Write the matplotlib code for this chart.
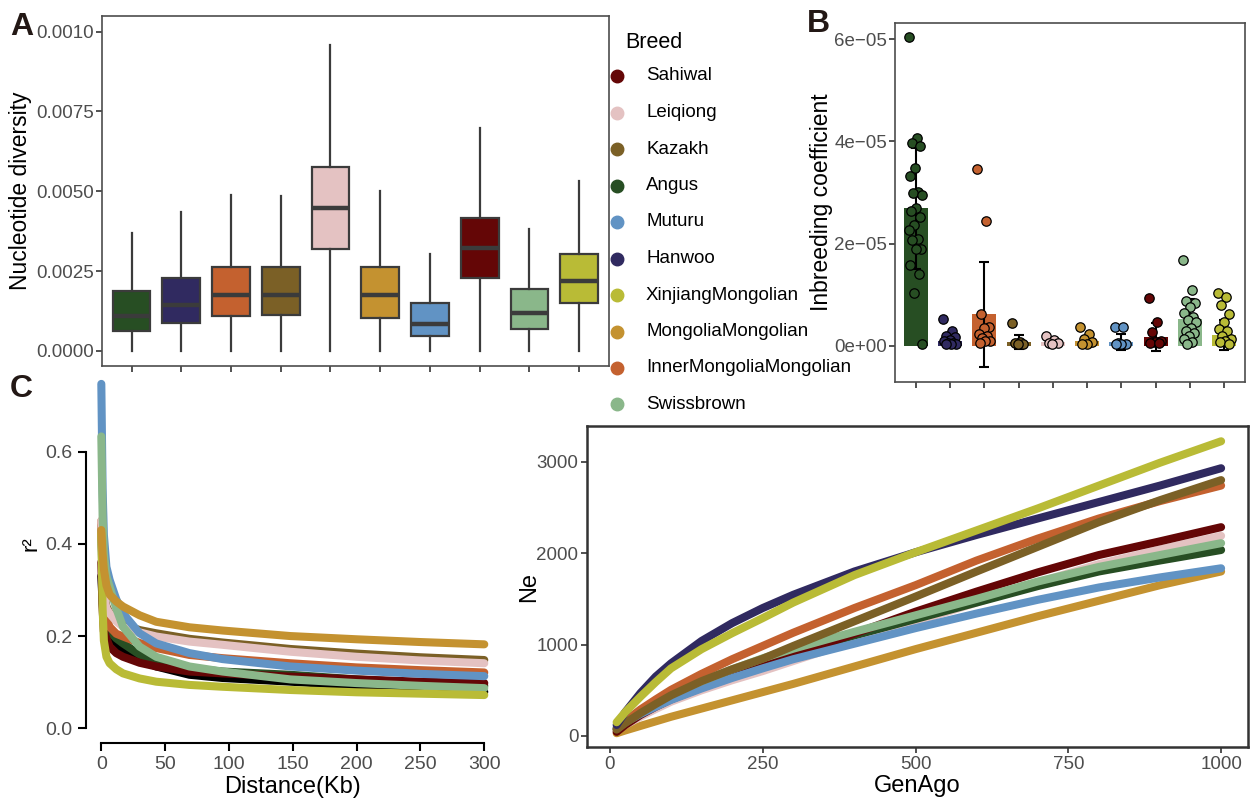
import numpy as np
import matplotlib
matplotlib.use("Agg")
import matplotlib.pyplot as plt
from matplotlib.lines import Line2D

plt.rcParams["font.family"] = ["Liberation Sans", "DejaVu Sans"]

# ---- data ----
breeds = ["Angus", "Hanwoo", "InnerMongoliaMongolian", "Kazakh", "Leiqiong",
          "MongoliaMongolian", "Muturu", "Sahiwal", "Swissbrown", "XinjiangMongolian"]
colors = ["#274e23", "#302a60", "#c4612f", "#7b6026", "#e4c2c2",
          "#c49230", "#6193c4", "#640606", "#8ab78a", "#b9bb36"]
legend_order = ["Sahiwal", "Leiqiong", "Kazakh", "Angus", "Muturu", "Hanwoo",
                "XinjiangMongolian", "MongoliaMongolian", "InnerMongoliaMongolian", "Swissbrown"]

# panel A: nucleotide diversity boxes
pi_low = [0, 0, 0, 0, 0, 0, 0, 0, 0, 0]
pi_q1 = [0.00064, 0.00088, 0.00111, 0.00113, 0.00319, 0.00104, 0.00048, 0.00228, 0.00069, 0.00151]
pi_med = [0.00111, 0.00145, 0.00174, 0.00176, 0.00449, 0.00174, 0.00086, 0.00322, 0.00118, 0.00220]
pi_q3 = [0.00188, 0.00230, 0.00262, 0.00262, 0.00576, 0.00263, 0.00150, 0.00418, 0.00195, 0.00305]
pi_high = [0.00368, 0.00435, 0.00489, 0.00484, 0.00958, 0.00500, 0.00303, 0.00699, 0.00383, 0.00533]

# panel B: inbreeding coefficient (units 1e-6)
f_mean = [26.9, 1.0, 6.2, 0.8, 0.8, 0.9, 0.8, 1.76, 5.2, 2.1]
f_sd = [11.8, 1.4, 10.3, 1.4, 0.8, 1.1, 1.5, 2.8, 3.9, 2.9]
f_angus = [60.4, 40.7, 39.7, 39.0, 34.7, 33.2, 30.2, 29.9, 29.6, 26.9, 26.4, 25.3,
           23.7, 22.7, 21.0, 20.7, 19.0, 18.9, 15.9, 14.0, 10.3, 0.3]
f_hanwoo = [5.2, 2.9, 1.9, 1.8, 1.2, 1.0, 0.6, 0.6, 0.4, 0.4, 0.3]
f_inner = [34.6, 24.5, 6.2, 3.8, 3.5, 2.4, 2.0, 1.5, 1.0, 1.0, 0.5]
f_kazakh = [4.4, 0.7, 0.5, 0.4, 0.3]
f_leiqiong = [2.0, 1.2, 0.5, 0.5, 0.3]
f_mongolia = [3.7, 2.3, 1.3, 0.8, 0.4, 0.3]
f_muturu = [3.8, 3.8, 0.5, 0.4, 0.4, 0.3]
f_sahiwal = [9.3, 4.7, 2.8, 1.0, 0.8, 0.6, 0.5]
f_swiss = [16.8, 10.9, 8.8, 8.5, 7.7, 6.5, 5.6, 5.0, 4.6, 3.6, 3.0, 2.6, 2.0, 1.3, 0.7, 0.4]
f_xinjiang = [10.4, 9.6, 8.0, 6.2, 4.6, 3.3, 3.0, 2.0, 1.3, 1.0, 0.7, 0.4]
f_points = [f_angus, f_hanwoo, f_inner, f_kazakh, f_leiqiong,
            f_mongolia, f_muturu, f_sahiwal, f_swiss, f_xinjiang]

# panel C left: LD decay
ld_dist = [0, 1, 2, 4, 6.5, 11.7, 17, 30, 43, 69, 95, 148, 200, 250, 300]
ld_angus = [0.43, 0.31, 0.25, 0.22, 0.21, 0.195, 0.184, 0.160, 0.144, 0.130, 0.123, 0.116, 0.106, 0.098, 0.092]
ld_hanwoo = [0.33, 0.27, 0.24, 0.22, 0.21, 0.185, 0.170, 0.150, 0.134, 0.116, 0.109, 0.101, 0.092, 0.085, 0.079]
ld_inner = [0.45, 0.33, 0.28, 0.24, 0.22, 0.205, 0.199, 0.185, 0.174, 0.159, 0.152, 0.141, 0.132, 0.126, 0.121]
ld_kazakh = [0.44, 0.34, 0.29, 0.265, 0.25, 0.235, 0.225, 0.213, 0.206, 0.194, 0.186, 0.172, 0.162, 0.154, 0.148]
ld_leiqiong = [0.45, 0.34, 0.29, 0.26, 0.249, 0.232, 0.220, 0.208, 0.199, 0.188, 0.181, 0.166, 0.155, 0.147, 0.141]
ld_mongolia = [0.43, 0.38, 0.345, 0.31, 0.29, 0.275, 0.264, 0.245, 0.231, 0.219, 0.212, 0.200, 0.193, 0.187, 0.182]
ld_muturu = [0.747, 0.52, 0.42, 0.35, 0.322, 0.28, 0.249, 0.206, 0.184, 0.163, 0.150, 0.134, 0.125, 0.118, 0.113]
ld_sahiwal = [0.36, 0.26, 0.21, 0.195, 0.177, 0.163, 0.155, 0.142, 0.134, 0.123, 0.119, 0.112, 0.106, 0.101, 0.098]
ld_swiss = [0.633, 0.46, 0.38, 0.33, 0.307, 0.26, 0.220, 0.177, 0.155, 0.134, 0.123, 0.106, 0.098, 0.092, 0.087]
ld_xinjiang = [0.423, 0.26, 0.19, 0.155, 0.141, 0.128, 0.119, 0.108, 0.101, 0.094, 0.090, 0.083, 0.078, 0.075, 0.072]

# panel C right: Ne over generations
ne_gen = [11, 25, 50, 75, 100, 150, 200, 250, 300, 400, 500, 600, 700, 800, 900, 1000]
ne_angus = [80, 160, 260, 350, 430, 570, 695, 800, 910, 1100, 1280, 1460, 1640, 1800, 1920, 2035]
ne_hanwoo = [120, 260, 470, 650, 795, 1040, 1235, 1400, 1545, 1800, 2010, 2200, 2380, 2560, 2740, 2930]
ne_inner = [75, 160, 290, 400, 505, 680, 840, 985, 1130, 1400, 1650, 1920, 2160, 2380, 2570, 2740]
ne_kazakh = [70, 140, 250, 350, 445, 600, 730, 845, 985, 1255, 1525, 1800, 2070, 2340, 2580, 2800]
ne_leiqiong = [60, 120, 210, 295, 375, 500, 610, 710, 820, 1040, 1250, 1460, 1680, 1880, 2040, 2190]
ne_mongolia = [30, 60, 110, 160, 210, 300, 390, 480, 570, 760, 950, 1130, 1310, 1480, 1650, 1800]
ne_muturu = [80, 150, 240, 320, 395, 520, 635, 740, 840, 1010, 1180, 1340, 1490, 1625, 1735, 1835]
ne_sahiwal = [45, 120, 230, 320, 400, 530, 650, 760, 880, 1120, 1360, 1580, 1790, 1980, 2130, 2285]
ne_swiss = [90, 170, 280, 375, 460, 600, 730, 850, 955, 1140, 1320, 1500, 1690, 1850, 1980, 2110]
ne_xinjiang = [150, 260, 430, 590, 740, 950, 1125, 1290, 1460, 1760, 2010, 2250, 2490, 2740, 2990, 3225]

W, H = 1250, 798


def px_box(l, t, r, b):
    return [l / W, 1 - b / H, (r - l) / W, (b - t) / H]


fig = plt.figure(figsize=(W / 100, H / 100), dpi=100)
grey = "#4d4d4d"

# ---------------- C left (first, so panel A draws over it) ----------------
ax = fig.add_axes(px_box(86, 344.7, 499.6, 743))
ax.patch.set_alpha(0)
ld_series = [ld_hanwoo, ld_angus, ld_kazakh, ld_sahiwal, ld_inner, ld_leiqiong,
             ld_muturu, ld_swiss, ld_xinjiang, ld_mongolia]
ld_names = ["Hanwoo", "Angus", "Kazakh", "Sahiwal", "InnerMongoliaMongolian", "Leiqiong",
            "Muturu", "Swissbrown", "XinjiangMongolian", "MongoliaMongolian"]
for name, vals in zip(ld_names, ld_series):
    c = "black" if name == "Hanwoo" else colors[breeds.index(name)]
    ax.plot(ld_dist, vals, color=c, linewidth=5.8, solid_capstyle="round",
            solid_joinstyle="round")
ax.set_xlim(-12, 312)
ax.set_ylim(-0.032, 0.832)
ax.spines["top"].set_visible(False)
ax.spines["right"].set_visible(False)
ax.spines["left"].set_bounds(0, 0.6)
ax.spines["bottom"].set_bounds(0, 300)
ax.spines["left"].set_linewidth(1.5)
ax.spines["bottom"].set_linewidth(1.5)
ax.set_yticks([0, 0.2, 0.4, 0.6])
ax.set_xticks([0, 50, 100, 150, 200, 250, 300])
ax.tick_params(axis="both", labelcolor=grey, labelsize=14, length=6, width=1.5)
ax.set_ylabel("r\u00b2", fontsize=16, labelpad=3)
ax.set_xlabel("Distance(Kb)", fontsize=17, labelpad=2)

# ---------------- A ----------------
ax = fig.add_axes(px_box(101.7, 16, 609, 366))
stats = []
for i in range(len(breeds)):
    stats.append({"whislo": pi_low[i], "q1": pi_q1[i], "med": pi_med[i],
                  "q3": pi_q3[i], "whishi": pi_high[i], "fliers": []})
bp = ax.bxp(stats, positions=range(1, 11), widths=0.76, patch_artist=True, showcaps=False,
            boxprops=dict(edgecolor="#3b3b3b", linewidth=1.6),
            whiskerprops=dict(color="#3b3b3b", linewidth=1.6),
            medianprops=dict(color="#3b3b3b", linewidth=3.2))
for patch, c in zip(bp["boxes"], colors):
    patch.set_facecolor(c)
ax.set_xlim(0.4, 10.6)
ax.set_ylim(-0.00047, 0.01049)
ax.set_yticks([0, 0.0025, 0.005, 0.0075, 0.01])
ax.set_yticklabels(["0.0000", "0.0025", "0.0050", "0.0075", "0.0010"])
ax.set_xticks(range(1, 11))
ax.set_xticklabels([])
ax.tick_params(axis="both", colors="#333333", labelcolor=grey, labelsize=13.5,
               length=4, width=1.2, pad=1.5)
ax.set_ylabel("Nucleotide diversity", fontsize=16.5, labelpad=3)
for s in ax.spines.values():
    s.set_color(grey)
    s.set_linewidth(1.2)

# legend (shared)
fig.text(625 / W, 1 - 42 / H, "Breed", fontsize=15.5, va="center", ha="left")
for k, name in enumerate(legend_order):
    y = 1 - (76 + k * 36.5) / H
    fig.add_artist(Line2D([617 / W], [y], marker="o", markersize=9, linestyle="none",
                          color=colors[breeds.index(name)], transform=fig.transFigure))
    fig.text(646 / W, y, name, fontsize=13.5, va="center", ha="left")

# ---------------- B ----------------
ax = fig.add_axes(px_box(895, 22.7, 1245, 381.7))
xpos = np.arange(1, 11)
ax.bar(xpos, np.array(f_mean) * 1e-6, width=0.7, color=colors, zorder=1)
ax.errorbar(xpos, np.array(f_mean) * 1e-6, yerr=np.array(f_sd) * 1e-6, fmt="none",
            ecolor="black", elinewidth=1.5, capsize=3.5, capthick=1.5, zorder=2)
for i, pts in enumerate(f_points):
    n = len(pts)
    jit = ((np.arange(n) * 0.618) % 1 - 0.5) * 0.4
    ax.scatter(xpos[i] + jit, np.array(pts) * 1e-6, s=46, color=colors[i],
               edgecolor="black", linewidth=0.9, zorder=3)
ax.set_xlim(0.4, 10.6)
ax.set_ylim(-6.98e-06, 6.32e-05)
ax.set_yticks([0, 2e-05, 4e-05, 6e-05])
ax.set_yticklabels(["0e+00", "2e\u221205", "4e\u221205", "6e\u221205"])
ax.set_xticks(xpos)
ax.set_xticklabels([])
ax.tick_params(axis="both", colors="#333333", labelcolor=grey, labelsize=13.5,
               length=4, width=1.2, pad=1.5)
ax.set_ylabel("Inbreeding coefficient", fontsize=16.5, labelpad=1)
for s in ax.spines.values():
    s.set_color(grey)
    s.set_linewidth(1.2)

# ---------------- C right ----------------
ax = fig.add_axes(px_box(586.7, 426, 1248, 747.3))
ne_series = [ne_mongolia, ne_leiqiong, ne_angus, ne_sahiwal, ne_muturu, ne_swiss,
             ne_inner, ne_kazakh, ne_hanwoo, ne_xinjiang]
ne_names = ["MongoliaMongolian", "Leiqiong", "Angus", "Sahiwal", "Muturu", "Swissbrown",
            "InnerMongoliaMongolian", "Kazakh", "Hanwoo", "XinjiangMongolian"]
for name, vals in zip(ne_names, ne_series):
    ax.plot(ne_gen, vals, color=colors[breeds.index(name)], linewidth=5.8,
            solid_capstyle="round", solid_joinstyle="round")
ax.set_xlim(-38, 1044)
ax.set_ylim(-124, 3392)
ax.set_xticks([0, 250, 500, 750, 1000])
ax.set_yticks([0, 1000, 2000, 3000])
ax.tick_params(axis="both", colors="#333333", labelcolor=grey, labelsize=13.5,
               length=4, width=1.2, pad=2)
ax.set_ylabel("Ne", fontsize=17, labelpad=-3)
ax.set_xlabel("GenAgo", fontsize=17, labelpad=2)
for s in ax.spines.values():
    s.set_color("#333333")
    s.set_linewidth(1.8)

# panel letters
for letter, x, y in [("A", 10, 12), ("B", 807, 9), ("C", 10, 374)]:
    fig.text(x / W, 1 - y / H, letter, fontsize=23, fontweight="bold",
             color="#231815", va="top", ha="left")

fig.savefig("out.png", dpi=100)
